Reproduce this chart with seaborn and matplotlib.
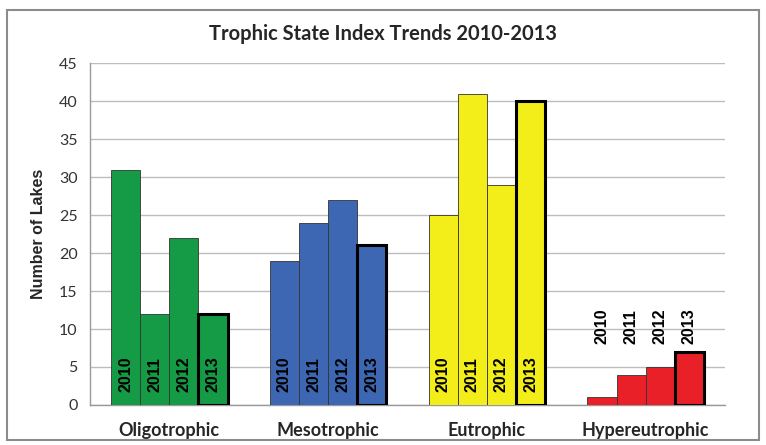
import pandas as pd
import matplotlib
matplotlib.use("Agg")
import matplotlib.pyplot as plt
from matplotlib.patches import Rectangle
import seaborn as sns

categories = ["Oligotrophic", "Mesotrophic", "Eutrophic", "Hypereutrophic"]
years = ["2010", "2011", "2012", "2013"]
oligotrophic = [31, 12, 22, 12]
mesotrophic = [19, 24, 27, 21]
eutrophic = [25, 41, 29, 40]
hypereutrophic = [1, 4, 5, 7]
cat_colors = ["#159a45", "#3d67b2", "#f3ed1a", "#ea2028"]

values = [oligotrophic, mesotrophic, eutrophic, hypereutrophic]
rows = []
for cat, vals in zip(categories, values):
    for yr, v in zip(years, vals):
        rows.append({"category": cat, "year": yr, "lakes": v})
df = pd.DataFrame(rows)

sns.set_style("white")
plt.rcParams["font.family"] = ["Lato", "DejaVu Sans"]

fig = plt.figure(figsize=(7.66, 4.45), dpi=100)
ax = fig.add_axes([0.1175, 0.09, 0.829, 0.768])

sns.barplot(data=df, x="category", y="lakes", hue="year", order=categories,
            hue_order=years, width=0.733, gap=0, dodge=True, legend=False,
            palette=["#999999"] * 4, ax=ax, zorder=3)

# recolor bars by category, thick black border on 2013
for j, cont in enumerate(ax.containers):
    for i, bar in enumerate(cont):
        bar.set_facecolor(cat_colors[i])
        if years[j] == "2013":
            bar.set_edgecolor("black")
            bar.set_linewidth(2.2)
        else:
            bar.set_edgecolor("#333333")
            bar.set_linewidth(0.6)
        x = bar.get_x() + bar.get_width() / 2
        ylab = 8.0 if categories[i] == "Hypereutrophic" else 1.7
        ax.text(x, ylab, years[j], rotation=90, ha="center", va="bottom",
                fontsize=11.5, fontweight="bold", family="Liberation Sans",
                color="black", zorder=5)

ax.set_ylim(0, 45)
ax.set_xlim(-0.5, 3.5)
ax.set_yticks(range(0, 46, 5))
ax.yaxis.grid(True, color="#bdbdbd", linewidth=1.0, zorder=0)
ax.set_axisbelow(True)
for s in ["top", "right"]:
    ax.spines[s].set_visible(False)
for s in ["left", "bottom"]:
    ax.spines[s].set_color("#999999")
    ax.spines[s].set_linewidth(1.0)

ax.set_xticks([-0.5, 0.5, 1.5, 2.5, 3.5], minor=False)
ax.set_xticklabels([])
ax.set_xticks([0, 1, 2, 3], minor=True)
ax.set_xticklabels(categories, minor=True, fontsize=13, fontweight="bold")
ax.tick_params(axis="x", which="major", length=6, color="#999999", direction="out")
ax.tick_params(axis="x", which="minor", length=0, pad=12)
ax.tick_params(axis="y", length=5, color="#999999", direction="out",
               labelsize=11.5, labelcolor="#333333", pad=4)
ax.set_xlabel("")
ax.set_ylabel("Number of Lakes", fontsize=11.5, fontweight="bold",
              family="Liberation Sans", labelpad=9)

fig.suptitle("Trophic State Index Trends 2010-2013", fontsize=14.5,
             fontweight="bold", y=0.945)

fig.patches.append(Rectangle((0.009, 0.011), 0.982, 0.967, transform=fig.transFigure,
                             fill=False, edgecolor="#8c8c8c", linewidth=1.5))

fig.savefig("out.png", dpi=100)
